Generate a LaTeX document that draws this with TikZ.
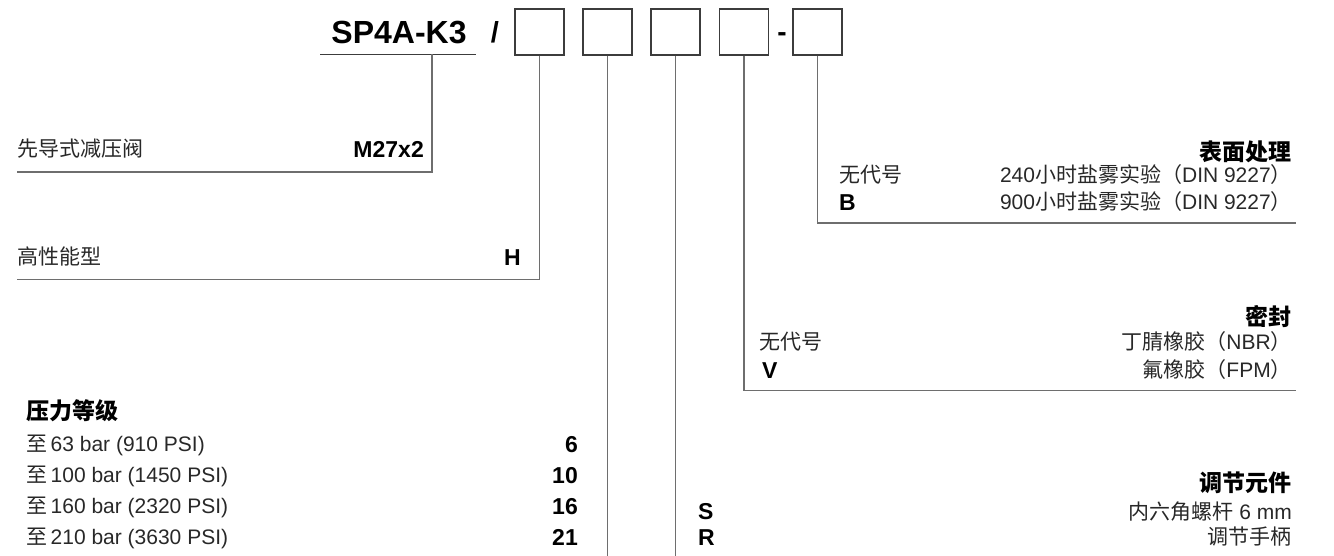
\documentclass[tikz,border=0pt]{standalone}
\usepackage{fontspec}
\setmainfont{Liberation Sans}
\newfontfamily\zhfont{Noto Sans CJK SC}
\newcommand{\zh}[1]{{\zhfont #1}}
\usepackage{tikz}
\usetikzlibrary{positioning}
\usepackage{xcolor}
\definecolor{linegray}{RGB}{110,110,110}
\definecolor{boxgray}{RGB}{60,60,60}
\definecolor{txtgray}{RGB}{40,40,40}

\begin{document}
\begin{tikzpicture}[x=1pt, y=-1pt,
    codebox/.style={draw=boxgray, line width=1.4pt, minimum width=49pt, minimum height=46pt, inner sep=0pt},
    lead/.style={draw=linegray, line width=1.3pt},
    txt/.style={inner sep=0pt, text height=15pt, text depth=0pt, text=txtgray, font=\fontsize{21}{25}\selectfont},
    code/.style={inner sep=0pt, text height=16.5pt, text depth=0pt, font=\fontsize{23}{27}\selectfont\bfseries},
    head/.style={inner sep=0pt, text height=16.5pt, text depth=0pt, font=\fontsize{23}{27}\selectfont\bfseries}]

    \useasboundingbox (0,0) rectangle (1334,556);

    % Type code
    \node[code, text height=23pt, font=\fontsize{32}{36}\selectfont\bfseries] (type) at (399,32.5) {SP4A-K3};
    \node[code, text height=21pt, font=\fontsize{29}{32}\selectfont\bfseries] (slash) at (495,32.5) {/};
    \node[codebox] (b1) at (539.5,32) {};
    \node[codebox] (b2) at (607.5,32) {};
    \node[codebox] (b3) at (675.5,32) {};
    \node[codebox] (b4) at (744,32) {};
    \node[code, text height=19pt, font=\fontsize{28}{30}\selectfont\bfseries] (dash) at (782,32) {-};
    \node[codebox] (b5) at (817.5,32) {};

    \coordinate (ulL) at (320,54.5);
    \coordinate (ulR) at (476,54.5);
    \coordinate (ulM) at (432,54.5);
    \draw[lead, draw=boxgray] (ulL) -- (ulR);

    % Thread
    \node[txt, anchor=west] (thr) at (17,149) {\zh{先导式减压阀}};
    \node[code, anchor=east] (thrc) at (424,149) {M27x2};
    \coordinate (thrEnd) at (17,172);
    \draw[lead] (ulM) |- (thrEnd);

    % Version
    \node[txt, anchor=west] (ver) at (17,257) {\zh{高性能型}};
    \node[code, anchor=east] (verc) at (521,257) {H};
    \coordinate (verEnd) at (17,279.5);
    \draw[lead] (b1.south) |- (verEnd);

    % Pressure
    \node[head, anchor=west] (prs) at (26,411) {\zh{压力等级}};
    \node[txt, anchor=west] (p6) at (26,444) {\zh{至}\,63 bar (910 PSI)};
    \node[txt, anchor=west] (p10) at (26,475) {\zh{至}\,100 bar (1450 PSI)};
    \node[txt, anchor=west] (p16) at (26,506) {\zh{至}\,160 bar (2320 PSI)};
    \node[txt, anchor=west] (p21) at (26,537) {\zh{至}\,210 bar (3630 PSI)};
    \node[code, anchor=east] (p6c) at (578,444) {6};
    \node[code, anchor=east] (p10c) at (578,475) {10};
    \node[code, anchor=east] (p16c) at (578,506) {16};
    \node[code, anchor=east] (p21c) at (578,537) {21};
    \coordinate (prsEnd) at (607.5,556);
    \draw[lead] (b2.south) -- (prsEnd);

    % Adjustment
    \node[head, anchor=east] (adj) at (1292,483) {\zh{调节元件}};
    \node[code, anchor=west] (adjS) at (698,511.5) {S};
    \node[code, anchor=west] (adjR) at (698,537) {R};
    \node[txt, anchor=east] (adjSt) at (1292,511.5) {\zh{内六角螺杆} 6 mm};
    \node[txt, anchor=east] (adjRt) at (1292,537) {\zh{调节手柄}};
    \coordinate (adjEnd) at (675.5,556);
    \draw[lead] (b3.south) -- (adjEnd);

    % Seal
    \node[head, anchor=east] (seal) at (1292,317) {\zh{密封}};
    \node[txt, anchor=west] (sealN) at (759,342) {\zh{无代号}};
    \node[code, anchor=west] (sealV) at (762,370) {V};
    \node[txt, anchor=east] (sealNt) at (1292,342) {\zh{丁腈橡胶（}NBR\zh{）}};
    \node[txt, anchor=east] (sealVt) at (1292,370) {\zh{氟橡胶（}FPM\zh{）}};
    \coordinate (sealEnd) at (1296,390.5);
    \draw[lead] (b4.south) |- (sealEnd);

    % Surface
    \node[head, anchor=east] (surf) at (1292,152) {\zh{表面处理}};
    \node[txt, anchor=west] (surfN) at (839,175) {\zh{无代号}};
    \node[code, anchor=west] (surfB) at (839,202) {B};
    \node[txt, anchor=east] (surfNt) at (1292,175) {240\zh{小时盐雾实验（}DIN 9227\zh{）}};
    \node[txt, anchor=east] (surfBt) at (1292,202) {900\zh{小时盐雾实验（}DIN 9227\zh{）}};
    \coordinate (surfEnd) at (1296,223);
    \draw[lead] (b5.south) |- (surfEnd);
\end{tikzpicture}
\end{document}
